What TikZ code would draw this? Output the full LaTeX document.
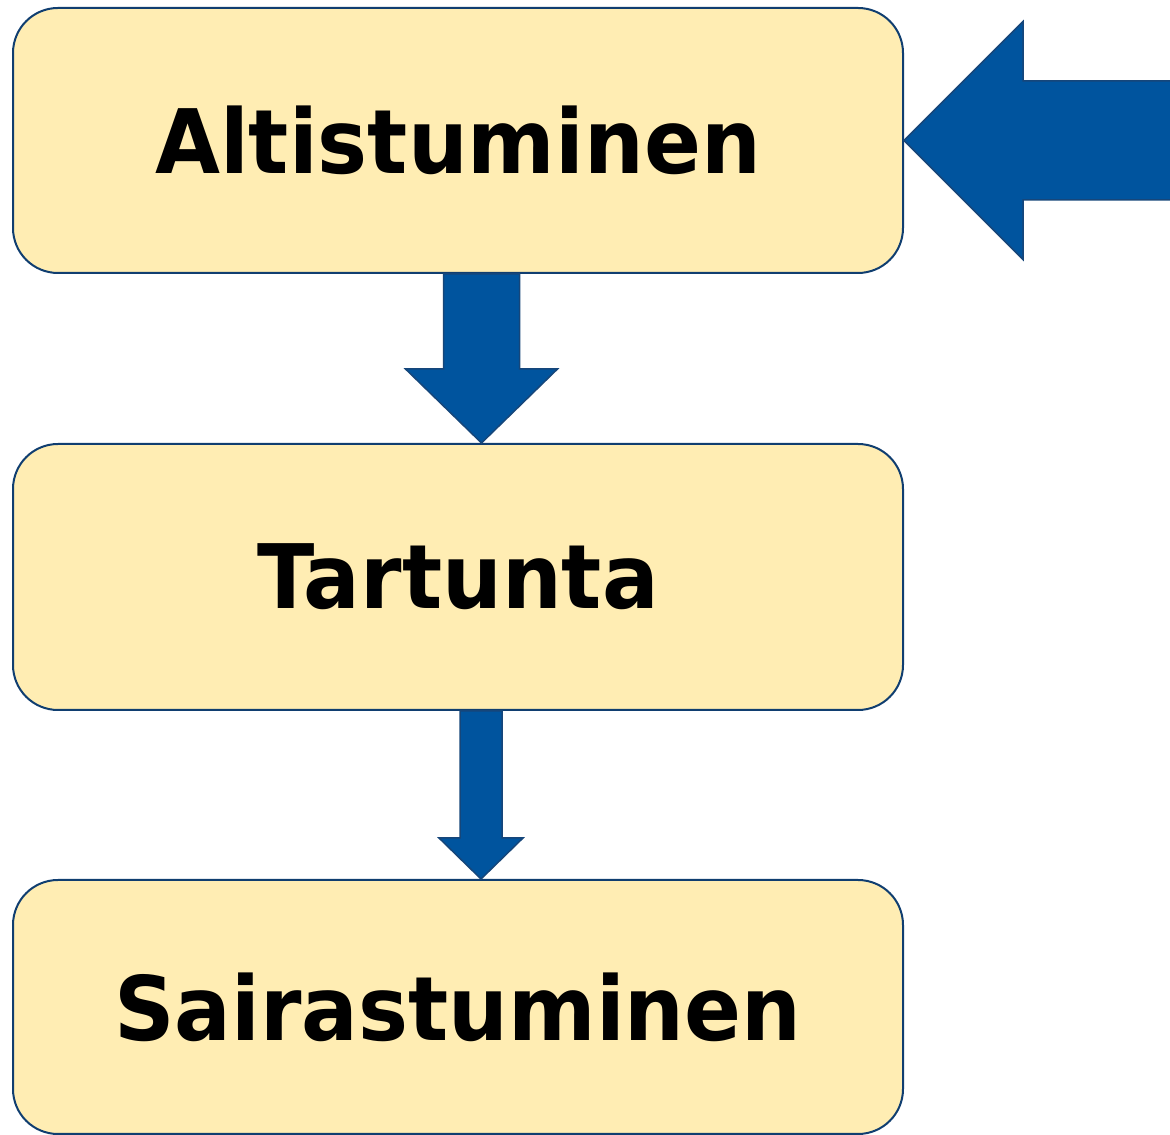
\documentclass[tikz,border=0pt]{standalone}
\usepackage{fontspec}
\setmainfont{DejaVu Sans}
\usetikzlibrary{calc}
\definecolor{boxfill}{RGB}{255,237,179}
\definecolor{boxline}{RGB}{16,62,112}
\definecolor{arrfill}{RGB}{0,84,158}
\definecolor{arrline}{RGB}{22,70,122}
\tikzset{
  stagebox/.style={draw=boxline, line width=2pt, fill=boxfill, rounded corners=45pt,
    minimum width=890pt, inner sep=0pt, font=\fontsize{89}{100}\selectfont\bfseries},
  blockarrow/.style={fill=arrfill, draw=arrline, line width=1.5pt, line join=miter}
}
\begin{document}
\begin{tikzpicture}[x=1pt,y=1pt]
\useasboundingbox (0,0) rectangle (1170,1135);
\node[stagebox, minimum height=265pt] (A) at (458,994.5) {\scalebox{0.944}[1]{Altistuminen}};
\node[stagebox, minimum height=266pt] (T) at (458,558) {\scalebox{0.944}[1]{Tartunta}};
\node[stagebox, minimum height=254pt] (S) at (458,128) {\scalebox{0.944}[1]{Sairastuminen}};
% left-pointing arrow into A
\coordinate (tipA) at (A.east);
\draw[blockarrow] (tipA) -- ++(119,119) -- ++(0,-59.5) -- (1172,{994.5+59.5}) -- (1172,{994.5-59.5}) -- ($(tipA)+(119,-59.5)$) -- ++(0,-59.5) -- cycle;
% down arrow A -> T
\coordinate (tipT) at ($(T.north)+(23.5,0)$);
\coordinate (baseA) at ($(A.south)+(23.5,0)$);
\draw[blockarrow] (tipT) -- ++(-76,74) -- ++(38,0) -- ($(baseA)+(-38,0)$) -- ($(baseA)+(38,0)$) -- ($(tipT)+(38,74)$) -- ++(38,0) -- cycle;
% down arrow T -> S
\coordinate (tipS) at ($(S.north)+(23,0)$);
\coordinate (baseT) at ($(T.south)+(23,0)$);
\draw[blockarrow] (tipS) -- ++(-42,41) -- ++(21,0) -- ($(baseT)+(-21,0)$) -- ($(baseT)+(21,0)$) -- ($(tipS)+(21,41)$) -- ++(21,0) -- cycle;
\end{tikzpicture}
\end{document}
